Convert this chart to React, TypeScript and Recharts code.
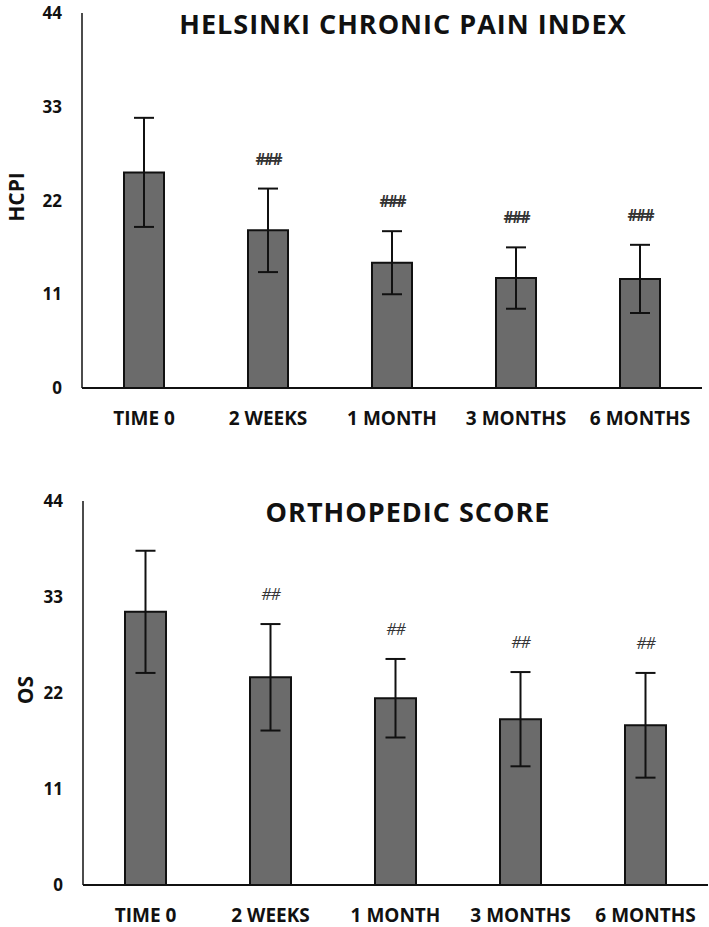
import React from 'react';
import { BarChart, Bar, XAxis, YAxis, ErrorBar, LabelList } from 'recharts';

const categories = ['TIME 0', '2 WEEKS', '1 MONTH', '3 MONTHS', '6 MONTHS'];
const yTicks = [0, 11, 22, 33, 44];

const hcpiMean = [25.3, 18.5, 14.7, 12.9, 12.8];
const hcpiSD = [6.4, 4.9, 3.7, 3.6, 4.0];
const hcpiNote = ['', '###', '###', '###', '###'];

const osMean = [31.3, 23.8, 21.4, 19.0, 18.3];
const osSD = [7.0, 6.1, 4.5, 5.4, 6.0];
const osNote = ['', '##', '##', '##', '##'];

const FONT = '"Open Sans", "Liberation Sans", sans-serif';

function build(mean: number[], sd: number[], note: string[]) {
  return categories.map((c, i) => ({ cat: c, mean: mean[i], sd: sd[i], note: note[i] }));
}

function makeNote(mean: number[], sd: number[], bold: boolean) {
  return (props: any) => {
    const { x, y, width, height, value, index } = props;
    if (!value) return null;
    const pxPerUnit = height / mean[index];
    const errTop = y - sd[index] * pxPerUnit;
    return (
      <text
        x={x + width / 2}
        y={errTop - 24}
        textAnchor="middle"
        fontFamily={FONT}
        fontSize={16}
        fontStyle={bold ? 'normal' : 'italic'}
        fontWeight={bold ? 700 : 400}
        letterSpacing={bold ? -2 : -1}
        fill="#333"
      >
        {value}
      </text>
    );
  };
}

type PanelProps = {
  top: number;
  height: number;
  data: any[];
  mean: number[];
  sd: number[];
  bold: boolean;
  barSize: number;
  rightMargin: number;
  yAxisWidth: number;
  title: string;
  titleX: number;
  titleY: number;
  yLabel: string;
  yLabelX: number;
  yLabelY: number;
};

function Panel(p: PanelProps) {
  return (
    <div style={{ position: 'absolute', left: 0, top: p.top, width: 709, height: p.height }}>
      <BarChart
        width={709}
        height={p.height}
        data={p.data}
        margin={{ top: 13, right: p.rightMargin, left: 0, bottom: 0 }}
        barSize={p.barSize}
      >
        <XAxis
          dataKey="cat"
          height={42}
          tickLine={false}
          tickMargin={18}
          axisLine={{ stroke: '#111', strokeWidth: 2 }}
          tick={{ fontFamily: FONT, fontSize: 19, fontWeight: 700, fill: '#111' }}
          interval={0}
        />
        <YAxis
          width={p.yAxisWidth}
          domain={[0, 44]}
          ticks={yTicks}
          tickLine={false}
          tickMargin={14}
          axisLine={{ stroke: '#111', strokeWidth: 1.5 }}
          tick={{ fontFamily: FONT, fontSize: 17, fontWeight: 700, fill: '#111' }}
          interval={0}
        />
        <Bar dataKey="mean" fill="#6b6b6b" stroke="#111" strokeWidth={2} isAnimationActive={false}>
          <ErrorBar dataKey="sd" width={10} stroke="#111" strokeWidth={2} direction="y" />
          <LabelList dataKey="note" content={makeNote(p.mean, p.sd, p.bold)} />
        </Bar>
      </BarChart>
      <div
        style={{
          position: 'absolute',
          left: p.titleX - 300,
          width: 600,
          top: p.titleY - 19,
          textAlign: 'center',
          fontFamily: FONT,
          fontWeight: 700,
          fontSize: 27,
          letterSpacing: 1.0,
          lineHeight: '38px',
          color: '#111',
          whiteSpace: 'nowrap',
        }}
      >
        {p.title}
      </div>
      <div
        style={{
          position: 'absolute',
          left: p.yLabelX - 50,
          top: p.yLabelY - 15,
          width: 100,
          height: 30,
          lineHeight: '30px',
          textAlign: 'center',
          transform: 'rotate(-90deg)',
          fontFamily: FONT,
          fontWeight: 700,
          fontSize: 21,
          color: '#111',
        }}
      >
        {p.yLabel}
      </div>
    </div>
  );
}

export default function App() {
  const hcpiData = build(hcpiMean, hcpiSD, hcpiNote);
  const osData = build(osMean, osSD, osNote);
  return (
    <div style={{ position: 'absolute', left: 0, top: 0, width: 709, height: 927, background: '#fff' }}>
      <Panel
        top={0}
        height={430}
        data={hcpiData}
        mean={hcpiMean}
        sd={hcpiSD}
        bold={true}
        barSize={40}
        rightMargin={7}
        yAxisWidth={82}
        title="HELSINKI CHRONIC PAIN INDEX"
        titleX={403}
        titleY={24}
        yLabel="HCPI"
        yLabelX={16}
        yLabelY={197}
      />
      <Panel
        top={488}
        height={439}
        data={osData}
        mean={osMean}
        sd={osSD}
        bold={false}
        barSize={41}
        rightMargin={1}
        yAxisWidth={83}
        title="ORTHOPEDIC SCORE"
        titleX={408}
        titleY={512 - 488}
        yLabel="OS"
        yLabelX={25}
        yLabelY={690 - 488}
      />
    </div>
  );
}
